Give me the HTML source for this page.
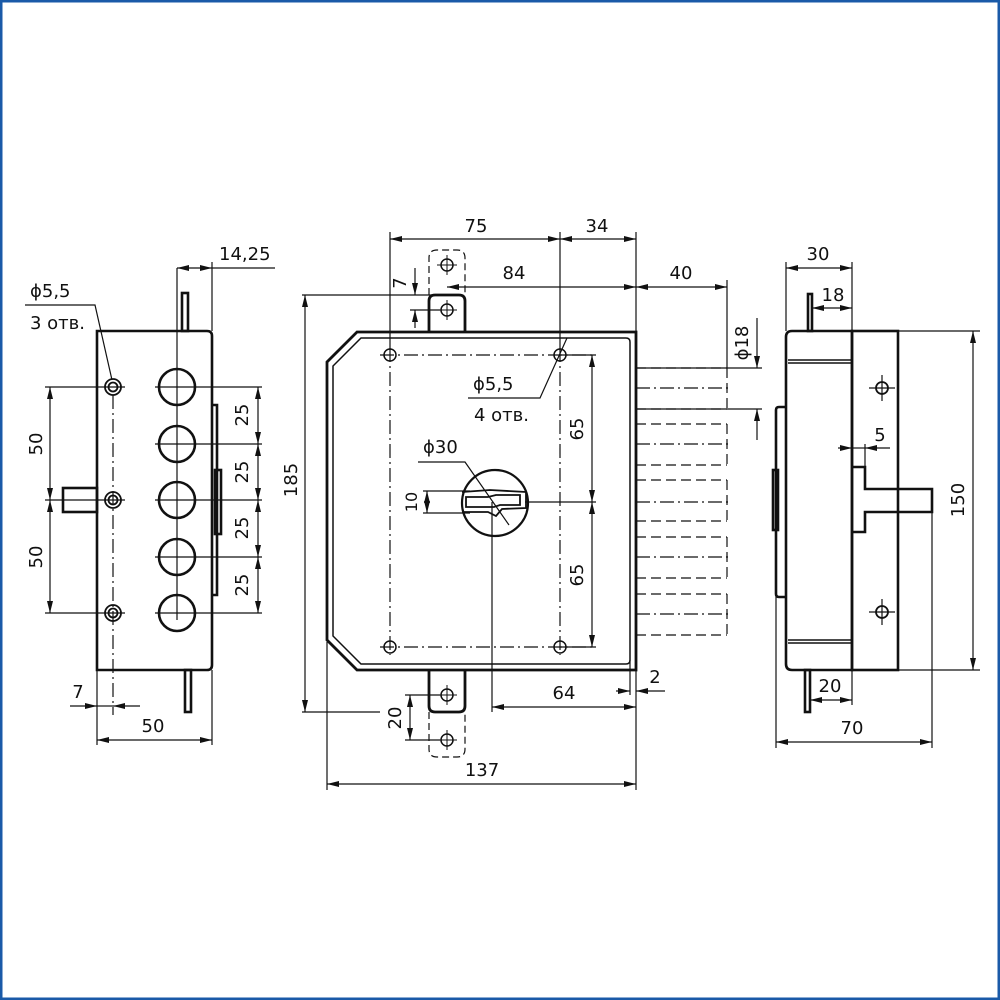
<!DOCTYPE html>
<html><head><meta charset="utf-8"><style>
html,body{margin:0;padding:0;background:#fff}
svg{display:block}
text{font-family:"DejaVu Sans","Liberation Sans",sans-serif;font-size:18px;fill:#111}
</style></head><body>
<svg width="1000" height="1000" viewBox="0 0 1000 1000" xmlns="http://www.w3.org/2000/svg">
<defs>
<marker id="a" viewBox="0 0 12 6" refX="12" refY="3" markerWidth="12" markerHeight="6" orient="auto-start-reverse" markerUnits="userSpaceOnUse"><path d="M0,0 L12,3 L0,6 z" fill="#111"/></marker>
</defs>
<rect x="1" y="1" width="998" height="998" fill="none" stroke="#1a5aa8" stroke-width="3"/>
<g fill="none" stroke="#111">
<!-- ===== LEFT VIEW ===== -->
<g stroke-width="1.2">
<line x1="177" y1="268" x2="177" y2="620"/>
<line x1="212" y1="262" x2="212" y2="331"/>
<line x1="97" y1="670" x2="97" y2="745"/>
<line x1="212" y1="670" x2="212" y2="745"/>
<line x1="113" y1="395" x2="113" y2="715" stroke-dasharray="14,4,2,4"/>
<line x1="45" y1="387" x2="125" y2="387"/><line x1="45" y1="500" x2="125" y2="500"/><line x1="45" y1="613" x2="125" y2="613"/>
<line x1="155" y1="387" x2="262" y2="387"/><line x1="155" y1="444" x2="262" y2="444"/><line x1="155" y1="500" x2="262" y2="500"/><line x1="155" y1="557" x2="262" y2="557"/><line x1="155" y1="613" x2="262" y2="613"/>
<line x1="50" y1="387" x2="50" y2="500" marker-start="url(#a)" marker-end="url(#a)"/>
<line x1="50" y1="500" x2="50" y2="613" marker-start="url(#a)" marker-end="url(#a)"/>
<line x1="258" y1="387" x2="258" y2="444" marker-start="url(#a)" marker-end="url(#a)"/>
<line x1="258" y1="444" x2="258" y2="500" marker-start="url(#a)" marker-end="url(#a)"/>
<line x1="258" y1="500" x2="258" y2="557" marker-start="url(#a)" marker-end="url(#a)"/>
<line x1="258" y1="557" x2="258" y2="613" marker-start="url(#a)" marker-end="url(#a)"/>
<line x1="177" y1="268" x2="212" y2="268" marker-start="url(#a)" marker-end="url(#a)"/>
<line x1="212" y1="268" x2="275" y2="268"/>
<line x1="97" y1="740" x2="212" y2="740" marker-start="url(#a)" marker-end="url(#a)"/>
<line x1="70" y1="706" x2="97" y2="706" marker-end="url(#a)"/>
<line x1="140" y1="706" x2="113" y2="706" marker-end="url(#a)"/>
<line x1="97" y1="706" x2="113" y2="706"/>
<polyline points="25,305 95,305 112,380"/>
</g>
<g stroke-width="2.6">
<path d="M97,331 H207 Q212,331 212,336 V665 Q212,670 207,670 H97 Z"/>
<rect x="182" y="293" width="6" height="38"/>
<rect x="185" y="670" width="6" height="42"/>
<rect x="63" y="488" width="34" height="24"/>
<path d="M212,405 H217 V595 H212"/>
<rect x="215" y="470" width="6" height="64"/>
<circle cx="177" cy="387" r="18"/><circle cx="177" cy="444" r="18"/><circle cx="177" cy="500" r="18"/><circle cx="177" cy="557" r="18"/><circle cx="177" cy="613" r="18"/>
</g>
<g stroke-width="1.8">
<circle cx="113" cy="387" r="8"/><circle cx="113" cy="387" r="4.5"/>
<circle cx="113" cy="500" r="8"/><circle cx="113" cy="500" r="4.5"/>
<circle cx="113" cy="613" r="8"/><circle cx="113" cy="613" r="4.5"/>
</g>

<!-- ===== CENTER VIEW ===== -->
<g stroke-width="1.2">
<line x1="390" y1="232" x2="390" y2="350"/>
<line x1="560" y1="232" x2="560" y2="350"/>
<line x1="636" y1="232" x2="636" y2="332"/>
<line x1="390" y1="239" x2="560" y2="239" marker-start="url(#a)" marker-end="url(#a)"/>
<line x1="560" y1="239" x2="636" y2="239" marker-start="url(#a)" marker-end="url(#a)"/>
<line x1="447" y1="287" x2="636" y2="287" marker-start="url(#a)" marker-end="url(#a)"/>
<line x1="636" y1="287" x2="727" y2="287" marker-start="url(#a)" marker-end="url(#a)"/>
<line x1="727" y1="280" x2="727" y2="368"/>
<line x1="636" y1="368" x2="762" y2="368"/>
<line x1="636" y1="409" x2="762" y2="409"/>
<line x1="757" y1="318" x2="757" y2="368" marker-end="url(#a)"/>
<line x1="757" y1="440" x2="757" y2="409" marker-end="url(#a)"/>
<line x1="302" y1="295" x2="445" y2="295"/>
<line x1="302" y1="712" x2="380" y2="712"/>
<line x1="305" y1="295" x2="305" y2="712" marker-start="url(#a)" marker-end="url(#a)"/>
<line x1="415" y1="268" x2="415" y2="295" marker-end="url(#a)"/>
<line x1="415" y1="328" x2="415" y2="310" marker-end="url(#a)"/>
<line x1="410" y1="310" x2="440" y2="310"/>
<line x1="592" y1="355" x2="592" y2="502" marker-start="url(#a)" marker-end="url(#a)"/>
<line x1="592" y1="502" x2="592" y2="647" marker-start="url(#a)" marker-end="url(#a)"/>
<line x1="560" y1="355" x2="596" y2="355"/>
<line x1="525" y1="502" x2="596" y2="502"/>
<line x1="560" y1="647" x2="596" y2="647"/>
<line x1="423" y1="491" x2="470" y2="491"/>
<line x1="423" y1="513" x2="470" y2="513"/>
<line x1="427" y1="491" x2="427" y2="513" marker-start="url(#a)" marker-end="url(#a)"/>
<polyline points="418,462 465,462 509,525"/>
<polyline points="468,398 540,398 567,338"/>
<line x1="492" y1="502" x2="492" y2="712"/>
<line x1="327" y1="642" x2="327" y2="790"/>
<line x1="636" y1="670" x2="636" y2="790"/>
<line x1="630" y1="660" x2="630" y2="695"/>
<line x1="492" y1="707" x2="636" y2="707" marker-start="url(#a)" marker-end="url(#a)"/>
<line x1="327" y1="784" x2="636" y2="784" marker-start="url(#a)" marker-end="url(#a)"/>
<line x1="616" y1="691" x2="630" y2="691" marker-end="url(#a)"/>
<line x1="665" y1="691" x2="636" y2="691" marker-end="url(#a)"/>
<line x1="405" y1="695" x2="440" y2="695"/>
<line x1="405" y1="740" x2="440" y2="740"/>
<line x1="410" y1="695" x2="410" y2="740" marker-start="url(#a)" marker-end="url(#a)"/>
<g stroke-dasharray="14,4,2,4">
<line x1="380" y1="355" x2="595" y2="355"/>
<line x1="380" y1="647" x2="595" y2="647"/>
<line x1="390" y1="348" x2="390" y2="655"/>
<line x1="560" y1="348" x2="560" y2="655"/>
</g>
<g stroke-dasharray="10,5">
<path d="M636,368 H727 M636,409 H727 M727,368 V409"/>
<path d="M636,424 H727 M636,465 H727 M727,424 V465"/>
<path d="M636,480 H727 M636,521 H727 M727,480 V521"/>
<path d="M636,537 H727 M636,578 H727 M727,537 V578"/>
<path d="M636,594 H727 M636,635 H727 M727,594 V635"/>
</g>
<g stroke-dasharray="14,4,2,4">
<line x1="636" y1="388" x2="732" y2="388"/><line x1="636" y1="444" x2="732" y2="444"/><line x1="636" y1="502" x2="732" y2="502"/><line x1="636" y1="557" x2="732" y2="557"/><line x1="636" y1="614" x2="732" y2="614"/>
</g>
<g stroke-dasharray="7,4">
<path d="M429,295 V258 Q429,250 437,250 H457 Q465,250 465,258 V295"/>
<path d="M429,712 V749 Q429,757 437,757 H457 Q465,757 465,749 V712"/>
</g>
</g>
<g stroke-width="2.8">
<path d="M357,332 H636 V670 H357 L327,640 V362 Z"/>
<path d="M429,332 V301 Q429,295 435,295 H459 Q465,295 465,301 V332"/>
<path d="M429,670 V706 Q429,712 435,712 H459 Q465,712 465,706 V670"/>
</g>
<g stroke-width="1.5">
<path d="M361,338 H626 Q630,338 630,342 V660 Q630,664 626,664 H361 L333,636 V366 Z"/>
<circle cx="390" cy="355" r="6"/><circle cx="560" cy="355" r="6"/><circle cx="390" cy="647" r="6"/><circle cx="560" cy="647" r="6"/>
<circle cx="447" cy="310" r="6"/><circle cx="447" cy="695" r="6"/>
<circle cx="447" cy="265" r="6"/><circle cx="447" cy="740" r="6"/>
<path d="M447,255 V275 M437,265 H457 M447,730 V750 M437,740 H457 M447,685 V705 M437,695 H457 M447,300 V320 M437,310 H457" stroke-width="1"/>
</g>
<g stroke-width="2.2">
<circle cx="495" cy="503" r="33"/>
<path d="M462,492 L490,490 L526,492 L526,508 L502,509 L496,516 L488,512 L462,512" stroke-width="1.8"/>
<path d="M466,497 H488 L496,495 H520 V505 H500 L494,507 H466 Z" stroke-width="1.8"/>
</g>

<!-- ===== RIGHT VIEW ===== -->
<g stroke-width="1.2">
<line x1="786" y1="262" x2="786" y2="331"/>
<line x1="852" y1="262" x2="852" y2="331"/>
<line x1="786" y1="268" x2="852" y2="268" marker-start="url(#a)" marker-end="url(#a)"/>
<line x1="812" y1="308" x2="852" y2="308" marker-start="url(#a)" marker-end="url(#a)"/>
<line x1="838" y1="448" x2="852" y2="448" marker-end="url(#a)"/>
<line x1="890" y1="448" x2="865" y2="448" marker-end="url(#a)"/>
<line x1="852" y1="448" x2="865" y2="448"/>
<line x1="865" y1="444" x2="865" y2="467"/>
<line x1="898" y1="331" x2="980" y2="331"/>
<line x1="898" y1="670" x2="980" y2="670"/>
<line x1="973" y1="331" x2="973" y2="670" marker-start="url(#a)" marker-end="url(#a)"/>
<line x1="810" y1="700" x2="852" y2="700" marker-start="url(#a)" marker-end="url(#a)"/>
<line x1="852" y1="670" x2="852" y2="705"/>
<line x1="776" y1="597" x2="776" y2="748"/>
<line x1="932" y1="512" x2="932" y2="748"/>
<line x1="776" y1="742" x2="932" y2="742" marker-start="url(#a)" marker-end="url(#a)"/>
<path d="M882,375 V401 M869,388 H895 M882,599 V625 M869,612 H895"/>
</g>
<g stroke-width="2.6">
<path d="M852,331 H792 Q786,331 786,337 V664 Q786,670 792,670 H852 Z"/>
<rect x="852" y="331" width="46" height="339"/>
<path d="M852,467 H865 V489 H932 V512 H865 V532 H852"/>
<path d="M786,407 H779 Q776,407 776,410 V594 Q776,597 779,597 H786"/>
<rect x="773" y="470" width="5" height="60"/>
<rect x="808" y="294" width="4" height="37"/>
<rect x="805" y="670" width="5" height="42"/>
<circle cx="882" cy="388" r="6" stroke-width="1.8"/><circle cx="882" cy="612" r="6" stroke-width="1.8"/>
</g>
<g stroke-width="1.5">
<path d="M788,360 H852 M788,363 H852 M788,640 H852 M788,643 H852"/>
</g>
</g>

<!-- ===== TEXT ===== -->
<text x="219" y="260">14,25</text>
<text x="30" y="297">ϕ5,5</text>
<text x="30" y="329">3 отв.</text>
<text x="42" y="444" text-anchor="middle" transform="rotate(-90 42 444)">50</text>
<text x="42" y="557" text-anchor="middle" transform="rotate(-90 42 557)">50</text>
<text x="248" y="415" text-anchor="middle" transform="rotate(-90 248 415)">25</text>
<text x="248" y="472" text-anchor="middle" transform="rotate(-90 248 472)">25</text>
<text x="248" y="528" text-anchor="middle" transform="rotate(-90 248 528)">25</text>
<text x="248" y="585" text-anchor="middle" transform="rotate(-90 248 585)">25</text>
<text x="78" y="698" text-anchor="middle">7</text>
<text x="153" y="732" text-anchor="middle">50</text>

<text x="476" y="232" text-anchor="middle">75</text>
<text x="597" y="232" text-anchor="middle">34</text>
<text x="514" y="279" text-anchor="middle">84</text>
<text x="681" y="279" text-anchor="middle">40</text>
<text x="748" y="343" text-anchor="middle" transform="rotate(-90 748 343)">ϕ18</text>
<text x="297" y="480" text-anchor="middle" transform="rotate(-90 297 480)">185</text>
<text x="406" y="283" text-anchor="middle" transform="rotate(-90 406 283)">7</text>
<text x="473" y="390">ϕ5,5</text>
<text x="474" y="421">4 отв.</text>
<text x="423" y="453">ϕ30</text>
<text x="583" y="429" text-anchor="middle" transform="rotate(-90 583 429)">65</text>
<text x="583" y="575" text-anchor="middle" transform="rotate(-90 583 575)">65</text>
<text x="417" y="502" text-anchor="middle" transform="rotate(-90 417 502)" style="font-size:16px">10</text>
<text x="564" y="699" text-anchor="middle">64</text>
<text x="655" y="683" text-anchor="middle">2</text>
<text x="401" y="718" text-anchor="middle" transform="rotate(-90 401 718)">20</text>
<text x="482" y="776" text-anchor="middle">137</text>

<text x="818" y="260" text-anchor="middle">30</text>
<text x="833" y="301" text-anchor="middle">18</text>
<text x="880" y="441" text-anchor="middle">5</text>
<text x="964" y="500" text-anchor="middle" transform="rotate(-90 964 500)">150</text>
<text x="830" y="692" text-anchor="middle">20</text>
<text x="852" y="734" text-anchor="middle">70</text>
</svg>
</body></html>
